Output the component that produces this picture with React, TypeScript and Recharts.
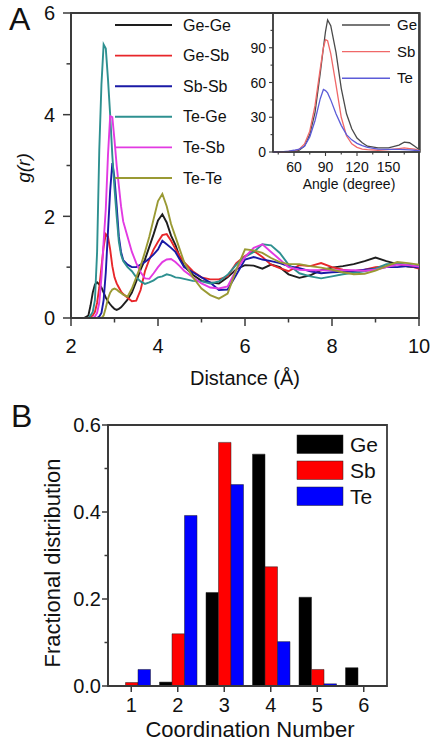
import { LineChart, Line, BarChart, Bar, XAxis, YAxis, ReferenceArea, Legend } from "recharts";

const FONT = '"Liberation Sans", Arial, Helvetica, sans-serif';
const AXIS = "#3a3a3a";
const INK = "#111";

// Panel A: partial pair correlation functions g(r)
const DISTANCE = [
  2.0, 2.3, 2.4, 2.45, 2.5, 2.55, 2.6, 2.65, 2.7, 2.75, 2.8, 2.85, 2.9, 2.95, 3.0, 3.05, 3.1, 3.15, 3.2,
  3.3, 3.4, 3.5, 3.6, 3.7, 3.8, 3.9, 4.0, 4.1, 4.2, 4.3, 4.4, 4.5, 4.6,
  4.8, 5.0, 5.2, 5.4, 5.6, 5.8, 6.0, 6.2, 6.4, 6.6, 6.8,
  7.0, 7.25, 7.5, 7.75, 8.0, 8.25, 8.5, 8.75, 9.0, 9.25, 9.5, 9.75, 10.0,
];
const GE_GE = [
  0, 0, 0.05, 0.25, 0.5, 0.66, 0.7, 0.66, 0.6, 0.5, 0.4, 0.33, 0.27, 0.22, 0.18, 0.16, 0.18, 0.21, 0.26,
  0.36, 0.5, 0.72, 0.95, 1.15, 1.4, 1.65, 1.92, 2.04, 1.88, 1.62, 1.44, 1.2, 1.02,
  0.85, 0.73, 0.7, 0.68, 0.8, 0.96, 1.04, 1.03, 0.97, 1.05, 1.0,
  0.86, 0.79, 0.84, 0.94, 0.99, 1.02, 1.06, 1.12, 1.19, 1.12, 1.06, 1.01, 0.99,
];
const GE_SB = [
  0, 0, 0, 0.02, 0.05, 0.12, 0.3, 0.6, 1.0, 1.4, 1.65, 1.6, 1.35, 1.02, 0.8, 0.68, 0.6, 0.52, 0.47,
  0.4, 0.33, 0.34, 0.55, 0.92, 1.15, 1.35, 1.5, 1.63, 1.65, 1.52, 1.36, 1.22, 1.1,
  0.92, 0.8, 0.76, 0.76, 0.82, 1.08, 1.22, 1.32, 1.2, 1.05, 0.98,
  0.92, 1.04, 1.02, 1.08, 1.0, 0.95, 0.92, 0.95, 1.0, 1.02, 1.08, 1.03, 0.97,
];
const SB_SB = [
  0, 0, 0, 0, 0, 0, 0, 0.03, 0.1, 0.35, 0.9, 1.7, 2.5, 3.05, 2.75, 2.2, 1.6, 1.3, 1.14,
  1.05, 1.0, 1.0, 1.05, 1.1, 1.17, 1.25, 1.35, 1.52, 1.45, 1.38, 1.3, 1.15, 1.0,
  0.9, 0.8, 0.7, 0.55, 0.56, 0.85, 1.15, 1.2, 1.15, 1.12, 1.08,
  1.02, 0.98, 0.92, 0.88, 0.9, 0.91, 0.92, 0.95, 0.97, 1.0, 1.0, 1.02, 0.99,
];
const TE_GE = [
  0, 0, 0, 0.05, 0.12, 0.35, 1.3, 3.3, 4.6, 5.38, 5.3, 4.7, 4.0, 3.2, 2.55, 2.0, 1.5, 1.25, 1.12,
  1.0, 0.92, 0.8, 0.72, 0.67, 0.7, 0.74, 0.8, 0.82, 0.86, 0.84, 0.8, 0.79, 0.77,
  0.73, 0.72, 0.68, 0.72, 0.85, 1.05, 1.2, 1.3, 1.45, 1.43, 1.28,
  1.05, 0.88, 0.82, 0.78, 0.82, 0.86, 0.89, 0.92, 0.97, 1.06, 1.07, 1.05, 1.02,
];
const TE_SB = [
  0, 0, 0, 0, 0, 0.03, 0.1, 0.3, 0.8, 1.5, 2.15, 3.2, 3.97, 3.95, 3.5, 3.0, 2.6, 2.2, 1.9,
  1.6, 1.3, 1.08, 0.9, 0.78, 0.77, 0.88, 1.0, 1.1, 1.15, 1.16, 1.1, 1.02, 0.93,
  0.8, 0.68, 0.6, 0.58, 0.62, 0.95, 1.2, 1.38, 1.45, 1.3, 1.15,
  1.0, 0.95, 0.94, 0.94, 0.94, 0.94, 0.94, 0.93, 0.95, 1.0, 1.05, 1.04, 1.01,
];
const TE_TE = [
  0, 0, 0, 0, 0, 0, 0, 0, 0, 0.05, 0.2, 0.38, 0.5, 0.56, 0.58, 0.56, 0.52, 0.49, 0.46,
  0.42, 0.58, 0.8, 1.02, 1.3, 1.6, 1.95, 2.3, 2.44, 2.2, 1.85, 1.6, 1.35, 1.1,
  0.8, 0.58, 0.45, 0.38, 0.48, 0.95, 1.35, 1.33, 1.28, 1.18, 1.1,
  1.06, 1.06, 1.02, 0.99, 0.95, 0.9, 0.86, 0.87, 0.93, 1.02, 1.1, 1.08, 1.05,
];
const PAIRS = ["Ge-Ge", "Ge-Sb", "Sb-Sb", "Te-Ge", "Te-Sb", "Te-Te"];
const PAIR_KEYS = ["geGe", "geSb", "sbSb", "teGe", "teSb", "teTe"];
const PAIR_COLOURS = ["#1e1e1e", "#e8262a", "#1a1aa6", "#2e9090", "#e23ae2", "#9a9a34"];
const R_TICKS = [2, 3, 4, 5, 6, 7, 8, 9, 10];
const R_LABELS = [2, 4, 6, 8, 10];
const G_TICKS = [0, 1, 2, 3, 4, 5, 6];
const G_LABELS = [0, 2, 4, 6];

// Inset: bond angle distribution
const ANGLE = [40, 50, 55, 60, 65, 70, 75, 80, 85, 88, 90, 92, 95, 100, 105, 110, 115, 120, 125, 130, 140, 150, 160, 165, 170, 175, 180];
const ANG_GE = [0, 0, 0.2, 0.5, 1.5, 5, 15, 34, 68, 90, 104, 114, 109, 86, 55, 33, 20, 12, 8, 5, 3.5, 3.5, 6, 8.5, 8, 5, 1.5];
const ANG_SB = [0, 0, 0.5, 1, 2.5, 7, 18, 40, 72, 90, 97, 96, 85, 58, 30, 14, 7, 4, 2.5, 2, 1.5, 2, 3, 3.5, 3, 2.5, 1];
const ANG_TE = [0, 0.3, 0.8, 1.5, 2.5, 5, 13, 27, 46, 54, 53, 51, 45, 33, 23, 15, 10.5, 7.5, 5.5, 4, 2.5, 2.3, 2.3, 2, 1.8, 1.5, 1];
const ELEMENTS = ["Ge", "Sb", "Te"];
const INSET_COLOURS = ["#4a4a4a", "#f06868", "#5c5cd8"];
const ANGLE_TICKS = [45, 60, 75, 90, 105, 120, 135, 150, 165];
const ANGLE_LABELS = [60, 90, 120, 150];
const ADF_TICKS = [0, 15, 30, 45, 60, 75, 90, 105];
const ADF_LABELS = [0, 30, 60, 90];

// Panel B: coordination number distribution
const COORD = ["1", "2", "3", "4", "5", "6"];
const FRAC_GE = [0, 0.009, 0.215, 0.533, 0.204, 0.042];
const FRAC_SB = [0.008, 0.12, 0.56, 0.274, 0.038, 0];
const FRAC_TE = [0.038, 0.392, 0.463, 0.102, 0.005, 0];
const BAR_COLOURS = ["#000000", "#ff0000", "#0000ff"];
const FRAC_TICKS = [0, 0.1, 0.2, 0.3, 0.4, 0.5, 0.6];
const FRAC_LABELS = [0, 0.2, 0.4, 0.6];

const gofrRows = DISTANCE.map((r, i) => ({
  r,
  geGe: GE_GE[i],
  geSb: GE_SB[i],
  sbSb: SB_SB[i],
  teGe: TE_GE[i],
  teSb: TE_SB[i],
  teTe: TE_TE[i],
}));
const angleRows = ANGLE.map((a, i) => ({ a, Ge: ANG_GE[i], Sb: ANG_SB[i], Te: ANG_TE[i] }));
const coordRows = COORD.map((cn, i) => ({ cn, Ge: FRAC_GE[i], Sb: FRAC_SB[i], Te: FRAC_TE[i] }));

type TickCfg = {
  labels: number[];
  size: number;
  major: number;
  minor: number;
  offset: number;
  width?: number;
  fmt?: (v: number) => string;
};

const bottomTick = (cfg: TickCfg) => (props: any) => {
  const { x, y, payload } = props;
  const v = Number(payload.value);
  const isMajor = cfg.labels.includes(v);
  return (
    <g>
      <line x1={x} x2={x} y1={y} y2={y + (isMajor ? cfg.major : cfg.minor)} stroke={AXIS} strokeWidth={cfg.width ?? 1.5} />
      {isMajor && (
        <text x={x} y={y + cfg.offset} textAnchor="middle" fontSize={cfg.size} fontFamily={FONT} fill={INK}>
          {cfg.fmt ? cfg.fmt(v) : payload.value}
        </text>
      )}
    </g>
  );
};

const leftTick = (cfg: TickCfg) => (props: any) => {
  const { x, y, payload } = props;
  const v = Number(payload.value);
  const isMajor = cfg.labels.includes(v);
  return (
    <g>
      <line x1={x} x2={x - (isMajor ? cfg.major : cfg.minor)} y1={y} y2={y} stroke={AXIS} strokeWidth={cfg.width ?? 1.5} />
      {isMajor && (
        <text x={x - cfg.offset} y={y} dy="0.36em" textAnchor="end" fontSize={cfg.size} fontFamily={FONT} fill={INK}>
          {cfg.fmt ? cfg.fmt(v) : payload.value}
        </text>
      )}
    </g>
  );
};

function PairLegend() {
  return (
    <svg width={135} height={180}>
      {PAIRS.map((p, i) => {
        const y = 17 + i * 30.6;
        return (
          <g key={p}>
            <line x1={5} x2={62} y1={y} y2={y} stroke={PAIR_COLOURS[i]} strokeWidth={1.9} />
            <text x={73} y={y + 5.6} fontSize={16} fontFamily={FONT} fill={INK}>
              {p}
            </text>
          </g>
        );
      })}
    </svg>
  );
}

function InsetLegend() {
  return (
    <svg width={80} height={80}>
      {ELEMENTS.map((e, i) => {
        const y = 13 + i * 26.6;
        return (
          <g key={e}>
            <line x1={4} x2={52} y1={y} y2={y} stroke={INSET_COLOURS[i]} strokeWidth={1.4} />
            <text x={59} y={y + 5.2} fontSize={15} fontFamily={FONT} fill={INK}>
              {e}
            </text>
          </g>
        );
      })}
    </svg>
  );
}

function BarLegend() {
  return (
    <svg width={100} height={80}>
      {ELEMENTS.map((e, i) => {
        const y = 5 + i * 26;
        return (
          <g key={e}>
            <rect x={2} y={y} width={46} height={18.5} fill={BAR_COLOURS[i]} stroke="#222" strokeWidth={0.5} />
            <text x={55} y={y + 16.8} fontSize={21} fontFamily={FONT} fill={INK}>
              {e}
            </text>
          </g>
        );
      })}
    </svg>
  );
}

export default function App() {
  return (
    <div style={{ position: "absolute", left: 0, top: 0, width: 435, height: 744, background: "#fff", fontFamily: FONT }}>
      <div style={{ position: "absolute", left: 0, top: 0 }}>
        <LineChart width={435} height={390} data={gofrRows} margin={{ top: 13, right: 16, bottom: 0, left: 0 }}>
          <XAxis
            dataKey="r"
            type="number"
            domain={[2, 10]}
            ticks={R_TICKS}
            interval={0}
            height={72}
            tickSize={0}
            tickMargin={0}
            tickLine={false}
            axisLine={{ stroke: AXIS, strokeWidth: 1.8 }}
            tick={bottomTick({ labels: R_LABELS, size: 20, major: 8, minor: 4.5, offset: 35 })}
          />
          <YAxis
            type="number"
            domain={[0, 6]}
            ticks={G_TICKS}
            interval={0}
            width={71}
            tickSize={0}
            tickMargin={0}
            tickLine={false}
            axisLine={{ stroke: AXIS, strokeWidth: 1.8 }}
            tick={leftTick({ labels: G_LABELS, size: 20, major: 8, minor: 4.5, offset: 16 })}
          />
          <ReferenceArea x1={2} x2={10} y1={0} y2={6} fill="none" stroke={AXIS} strokeWidth={1.8} ifOverflow="visible" />
          {PAIR_KEYS.map((k, i) => (
            <Line
              key={k}
              dataKey={k}
              name={PAIRS[i]}
              type="linear"
              stroke={PAIR_COLOURS[i]}
              strokeWidth={1.9}
              dot={false}
              isAnimationActive={false}
            />
          ))}
          <Legend
            layout="vertical"
            align="center"
            verticalAlign="middle"
            wrapperStyle={{ left: 110, top: 8, width: 135 }}
            content={() => <PairLegend />}
          />
        </LineChart>
      </div>

      <div style={{ position: "absolute", left: 233, top: 0 }}>
        <LineChart width={189} height={200} data={angleRows} margin={{ top: 13, right: 2, bottom: 0, left: 0 }}>
          <XAxis
            dataKey="a"
            type="number"
            domain={[40, 180]}
            ticks={ANGLE_TICKS}
            interval={0}
            height={48}
            tickSize={0}
            tickMargin={0}
            tickLine={false}
            axisLine={{ stroke: AXIS, strokeWidth: 1.4 }}
            tick={bottomTick({ labels: ANGLE_LABELS, size: 14, major: 4, minor: 2.5, offset: 20, width: 1.1 })}
          />
          <YAxis
            type="number"
            domain={[0, 120]}
            ticks={ADF_TICKS}
            interval={0}
            width={40}
            tickSize={0}
            tickMargin={0}
            tickLine={false}
            axisLine={{ stroke: AXIS, strokeWidth: 1.4 }}
            tick={leftTick({ labels: ADF_LABELS, size: 14, major: 4, minor: 2.5, offset: 7, width: 1.1 })}
          />
          <ReferenceArea x1={40} x2={180} y1={0} y2={120} fill="none" stroke={AXIS} strokeWidth={1.4} ifOverflow="visible" />
          {ELEMENTS.map((e, i) => (
            <Line
              key={e}
              dataKey={e}
              name={e}
              type="linear"
              stroke={INSET_COLOURS[i]}
              strokeWidth={1.3}
              dot={false}
              isAnimationActive={false}
            />
          ))}
          <Legend
            layout="vertical"
            align="center"
            verticalAlign="middle"
            wrapperStyle={{ left: 105, top: 12, width: 80 }}
            content={() => <InsetLegend />}
          />
        </LineChart>
      </div>

      <div style={{ position: "absolute", left: 0, top: 390 }}>
        <BarChart
          width={435}
          height={354}
          data={coordRows}
          margin={{ top: 35, right: 48, bottom: 0, left: 0 }}
          barGap={0}
          barSize={12.5}
        >
          <XAxis
            dataKey="cn"
            height={58}
            interval={0}
            tickSize={0}
            tickMargin={0}
            tickLine={false}
            axisLine={{ stroke: AXIS, strokeWidth: 1.8 }}
            tick={bottomTick({ labels: [1, 2, 3, 4, 5, 6], size: 20, major: 6, minor: 6, offset: 26 })}
          />
          <YAxis
            type="number"
            domain={[0, 0.6]}
            ticks={FRAC_TICKS}
            interval={0}
            width={108}
            tickSize={0}
            tickMargin={0}
            tickLine={false}
            axisLine={{ stroke: AXIS, strokeWidth: 1.8 }}
            tick={leftTick({ labels: FRAC_LABELS, size: 20, major: 6, minor: 3.5, offset: 7, fmt: (v) => v.toFixed(1) })}
          />
          <ReferenceArea y1={0} y2={0.6} fill="none" stroke={AXIS} strokeWidth={1.8} ifOverflow="visible" />
          {ELEMENTS.map((e, i) => (
            <Bar key={e} dataKey={e} name={e} fill={BAR_COLOURS[i]} stroke="#222" strokeWidth={0.5} isAnimationActive={false} />
          ))}
          <Legend
            layout="vertical"
            align="center"
            verticalAlign="middle"
            wrapperStyle={{ left: 295, top: 40, width: 100 }}
            content={() => <BarLegend />}
          />
        </BarChart>
      </div>

      <svg width={435} height={744} style={{ position: "absolute", left: 0, top: 0, pointerEvents: "none" }}>
        <g fontFamily={FONT} fill={INK}>
          <text x={9} y={30} fontSize={32}>A</text>
          <text x={11} y={427} fontSize={32}>B</text>
          <text x={30} y={168} fontSize={19} fontStyle="italic" textAnchor="middle" transform="rotate(-90 30 168)">
            g(r)
          </text>
          <text x={245} y={385} fontSize={20} textAnchor="middle">Distance (Å)</text>
          <text x={349} y={189} fontSize={14} textAnchor="middle">Angle (degree)</text>
          <text x={60} y={563} fontSize={22} textAnchor="middle" transform="rotate(-90 60 563)">
            Fractional distribution
          </text>
          <text x={250} y={737} fontSize={22} textAnchor="middle">Coordination Number</text>
        </g>
      </svg>
    </div>
  );
}
